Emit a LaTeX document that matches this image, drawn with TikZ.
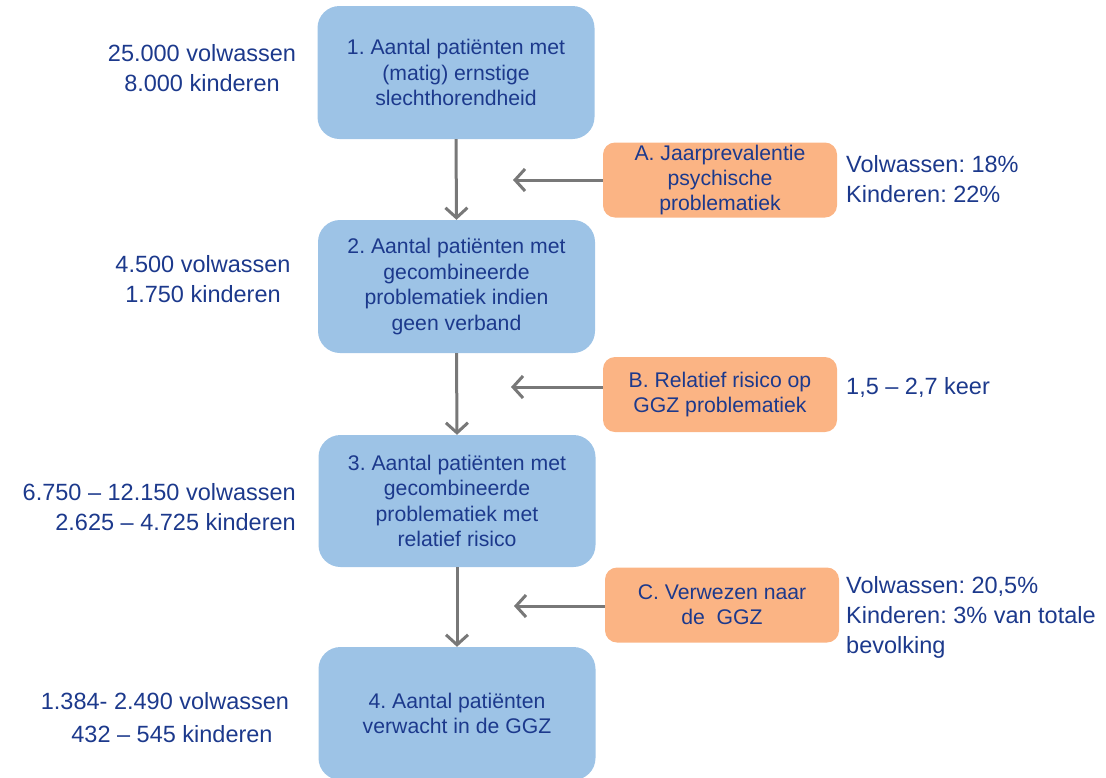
\documentclass[tikz,border=0pt]{standalone}
\usepackage{fontspec}
\setmainfont{Liberation Sans}
\frenchspacing
\usetikzlibrary{arrows.meta}
\definecolor{boxblue}{RGB}{157,195,230}
\definecolor{boxorange}{RGB}{251,180,132}
\definecolor{txtblue}{RGB}{28,57,140}
\definecolor{arrgray}{RGB}{120,120,120}
\tikzset{
  bluebox/.style={rectangle, rounded corners=22pt, fill=boxblue, minimum width=277pt, minimum height=133pt, inner sep=0pt, align=center, text=txtblue, font=\fontsize{21.2}{25.5}\selectfont},
  orangebox/.style={rectangle, rounded corners=12pt, fill=boxorange, minimum width=234pt, minimum height=75pt, inner sep=0pt, align=center, text=txtblue, font=\fontsize{21.2}{25}\selectfont},
  sidetext/.style={inner sep=0pt, text=txtblue, font=\fontsize{23.5}{30}\selectfont},
  arr/.style={draw=arrgray, line width=3pt, -{Straight Barb[length=10pt, width=22pt, line width=3pt]}}
}
\begin{document}
\begin{tikzpicture}[x=1pt, y=-1pt]
\useasboundingbox (0,0) rectangle (1106,777);
\clip (0,0) rectangle (1106,777);
% blue boxes
\node[bluebox] (b1) at (456,72.5) {1. Aantal patiënten met\\(matig) ernstige\\slechthorendheid};
\node[bluebox] (b2) at (456.5,286.5) {2. Aantal patiënten met\\gecombineerde\\problematiek indien\\geen verband};
\node[bluebox, minimum height=132pt] (b3) at (457,501) {3. Aantal patiënten met\\gecombineerde\\problematiek met\\relatief risico};
\node[bluebox] (b4) at (457,713.5) {4. Aantal patiënten\\verwacht in de GGZ};
% orange boxes
\node[orangebox] (oA) at (720,180) {A. Jaarprevalentie\\psychische\\problematiek};
\node[orangebox] (oB) at (720,394.5) {B. Relatief risico op\\GGZ problematiek};
\node[orangebox] (oC) at (722,605) {C. Verwezen naar\\de\ \ GGZ};
% arrow tips
\coordinate (tA) at (513,180);
\coordinate (tB) at (511,387);
\coordinate (tC) at (514,606);
% connectors
\draw[arr] (b1.south) -- (b2.north);
\draw[arr] (b2.south) -- (b3.north);
\draw[arr] (b3.south) -- (b4.north);
\draw[arr] (oA.west) -- (tA);
\draw[arr] (oB.west |- tB) -- (tB);
\draw[arr] (oC.west |- tC) -- (tC);
% left texts
\node[sidetext, align=center] (l1) at (202,68) {25.000 volwassen\\8.000 kinderen};
\node[sidetext, align=center] (l2) at (203,279.5) {4.500 volwassen\\1.750 kinderen};
\node[sidetext, align=right, anchor=east] (l3) at (296,507.5) {6.750 -- 12.150 volwassen\\2.625 -- 4.725 kinderen};
\node[sidetext, anchor=center] (l4a) at (165,701) {1.384- 2.490 volwassen};
\node[sidetext, anchor=center] (l4b) at (172,734) {432 -- 545 kinderen};
% right texts
\node[sidetext, align=left, anchor=west] (r1) at (846,179) {Volwassen: 18\%\\Kinderen: 22\%};
\node[sidetext, anchor=west] (r2) at (846,387) {1,5 -- 2,7 keer};
\node[sidetext, align=left, anchor=west] (r3) at (846,617.5) {Volwassen: 20,5\%\\Kinderen: 3\% van totale\\bevolking};
\end{tikzpicture}
\end{document}
